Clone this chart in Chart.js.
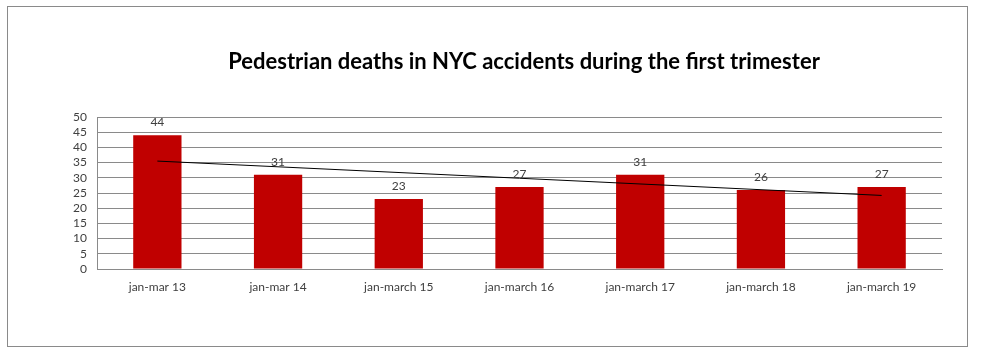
<!DOCTYPE html>
<html>
<head>
<meta charset="utf-8">
<script src="https://cdn.jsdelivr.net/npm/chart.js@4"></script>
<style>
  html, body { margin: 0; padding: 0; background: #fff; }
  #wrap { position: relative; width: 984px; height: 360px; }
  #frame {
    position: absolute; left: 7px; top: 6px; width: 959px; height: 339px;
    border: 1px solid #8a8a8a; pointer-events: none;
  }
</style>
</head>
<body>
<div id="wrap">
  <canvas id="chart" width="984" height="360"></canvas>
  <div id="frame"></div>
</div>
<script>
// 데이터
const categories = ['jan-mar 13', 'jan-mar 14', 'jan-march 15', 'jan-march 16', 'jan-march 17', 'jan-march 18', 'jan-march 19'];
const deaths = [44, 31, 23, 27, 31, 26, 27];
// 추세선 (그림에서 읽은 양 끝 값)
const trendline = [35.5, null, null, null, null, null, 24.2];

const chartTitle = 'Pedestrian deaths in NYC accidents during the first trimester';
const fontFamily = 'Lato, "Liberation Sans", sans-serif';

// 제목 + 막대 위 값 표시
const textPlugin = {
    id: 'textPlugin',
    afterDatasetsDraw(chart) {
        const ctx = chart.ctx;
        const meta = chart.getDatasetMeta(1);
        ctx.save();
        ctx.font = '12px ' + fontFamily;
        ctx.fillStyle = '#404040';
        ctx.textAlign = 'center';
        ctx.textBaseline = 'middle';
        meta.data.forEach((bar, i) => {
            ctx.fillText(String(deaths[i]), bar.x, bar.y - 13);
        });
        ctx.font = 'bold 22px ' + fontFamily;
        ctx.fillStyle = '#000000';
        ctx.fillText(chartTitle, 524, 62);
        ctx.restore();
    }
};

const ctx = document.getElementById('chart').getContext('2d');
new Chart(ctx, {
    data: {
        labels: categories,
        datasets: [
            {
                type: 'line',
                data: trendline,
                borderColor: '#000000',
                borderWidth: 1,
                pointRadius: 0,
                spanGaps: true,
                fill: false,
                order: 0,
            },
            {
                type: 'bar',
                data: deaths,
                backgroundColor: '#C00000',
                categoryPercentage: 1,
                barPercentage: 0.4,
                order: 1,
            },
        ],
    },
    options: {
        responsive: false,
        animation: false,
        layout: { padding: { left: 0, right: 42, top: 117, bottom: 0 } },
        plugins: {
            legend: { display: false },
            tooltip: { enabled: false },
            title: { display: false },
        },
        scales: {
            x: {
                grid: { display: false },
                border: { color: '#8a8a8a' },
                ticks: {
                    color: '#404040',
                    font: { family: fontFamily, size: 12 },
                    padding: 3,
                    maxRotation: 0,
                },
                afterFit(scale) { scale.height = 91; },
            },
            y: {
                min: 0,
                max: 50,
                grid: { color: '#8a8a8a', drawTicks: false },
                border: { color: '#8a8a8a' },
                ticks: {
                    stepSize: 5,
                    autoSkip: false,
                    color: '#404040',
                    font: { family: fontFamily, size: 12 },
                    padding: 10,
                },
                afterFit(scale) { scale.width = 97; },
            },
        },
    },
    plugins: [textPlugin],
});
</script>
</body>
</html>
